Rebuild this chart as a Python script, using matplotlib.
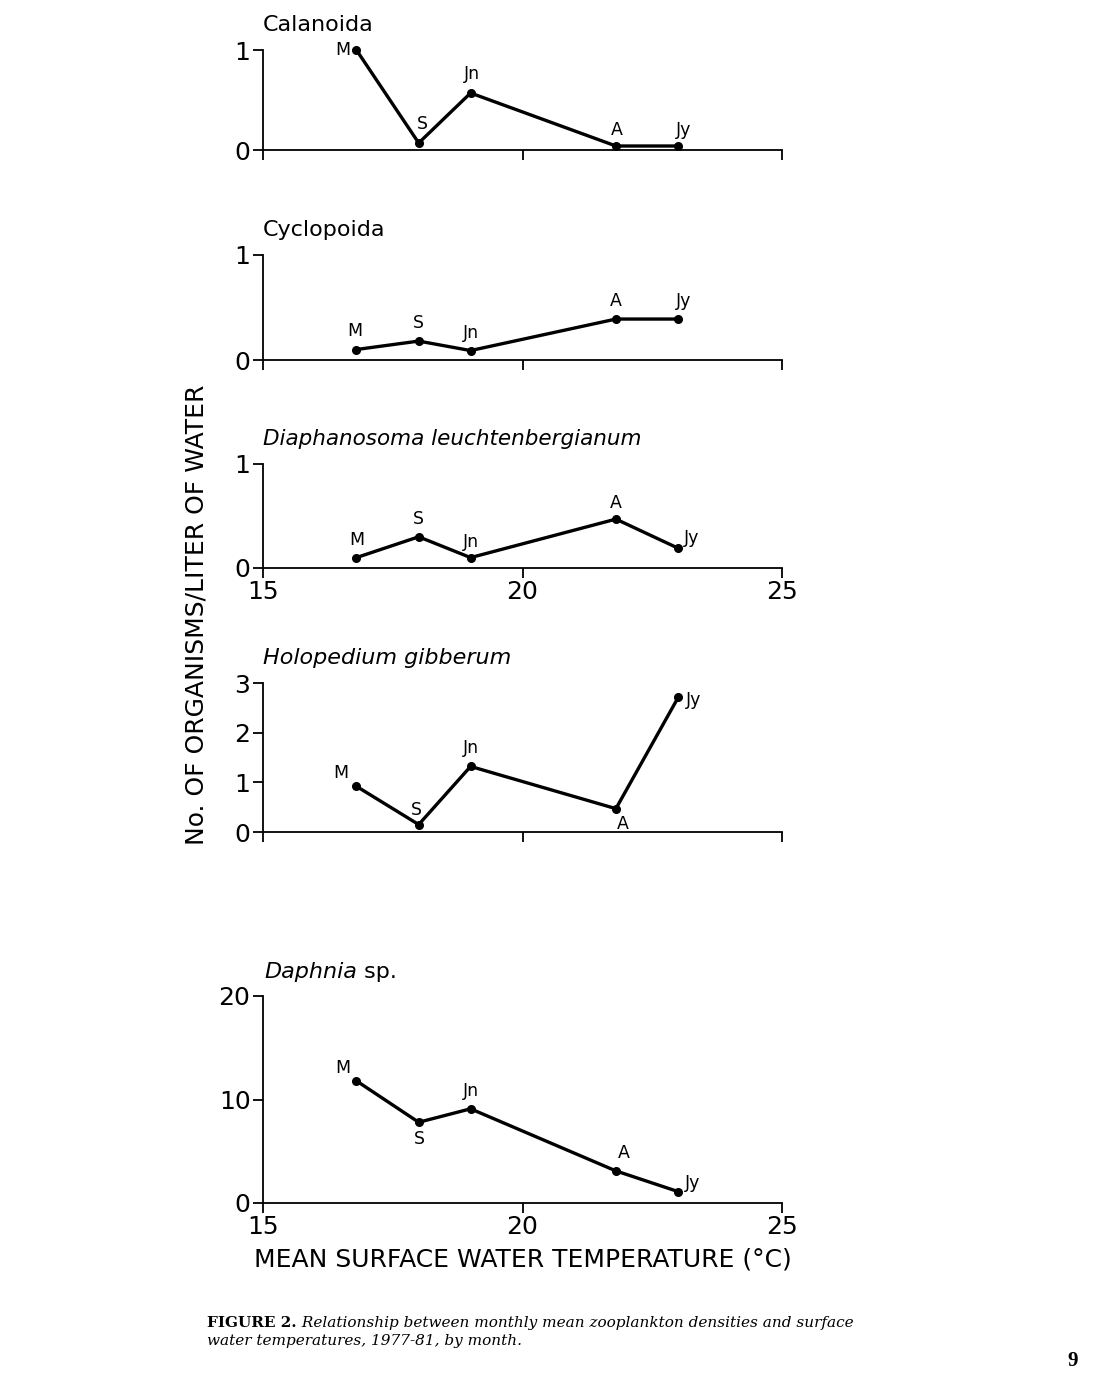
import matplotlib
matplotlib.use("Agg")
import matplotlib.pyplot as plt
from matplotlib.text import Annotation

plt.rcParams['font.family'] = ['DejaVu Sans']

# ---- data ----
months = ["M", "S", "Jn", "A", "Jy"]
temperature = [16.8, 18.0, 19.0, 21.8, 23.0]

calanoida = [1.00, 0.07, 0.57, 0.04, 0.04]
cyclopoida = [0.10, 0.18, 0.09, 0.39, 0.39]
diaphanosoma = [0.10, 0.30, 0.10, 0.47, 0.19]
holopedium = [0.92, 0.15, 1.32, 0.47, 2.71]
daphnia = [11.8, 7.8, 9.1, 3.1, 1.1]

titles = ["Calanoida", "Cyclopoida", "Diaphanosoma leuchtenbergianum",
          "Holopedium gibberum", "Daphnia"]
title_italic = [False, False, True, True, True]
yticks_list = [[0, 1], [0, 1], [0, 1], [0, 1, 2, 3], [0, 10, 20]]
xticks = [15, 20, 25]

W, H = 1093, 1380
fig = plt.figure(figsize=(W / 100, H / 100), dpi=100)
fig.patch.set_facecolor("white")

# axes boxes in pixels: (left, y_top, right, y_bottom)
boxes = [(263, 50, 782, 150), (263, 255, 782, 360), (263, 464, 782, 568),
         (263, 683, 782, 832), (263, 996, 782, 1203)]
show_xlabels = [False, False, True, False, True]

# label offsets (pixels dx, dy upward) and alignment for each point
offsets = [
    [(-6, 0, 'right', 'center'), (4, 10, 'center', 'bottom'), (1, 10, 'center', 'bottom'),
     (1, 7, 'center', 'bottom'), (5, 7, 'center', 'bottom')],
    [(-2, 9, 'center', 'bottom'), (0, 9, 'center', 'bottom'), (0, 9, 'center', 'bottom'),
     (0, 9, 'center', 'bottom'), (5, 9, 'center', 'bottom')],
    [(0, 9, 'center', 'bottom'), (0, 9, 'center', 'bottom'), (0, 7, 'center', 'bottom'),
     (0, 7, 'center', 'bottom'), (6, 1, 'left', 'bottom')],
    [(-8, 4, 'right', 'bottom'), (-2, 6, 'center', 'bottom'), (0, 9, 'center', 'bottom'),
     (7, -6, 'center', 'top'), (8, -3, 'left', 'center')],
    [(-6, 4, 'right', 'bottom'), (1, -8, 'center', 'top'), (0, 9, 'center', 'bottom'),
     (8, 9, 'center', 'bottom'), (7, 0, 'left', 'bottom')],
]

series = [calanoida, cyclopoida, diaphanosoma, holopedium, daphnia]
px2pt = 72 / 100

for i, (vals, box) in enumerate(zip(series, boxes)):
    l, t, r, b = box
    ax = fig.add_axes([l / W, 1 - b / H, (r - l) / W, (b - t) / H])
    yt = yticks_list[i]
    ax.set_xlim(15, 25)
    ax.set_ylim(yt[0], yt[-1])
    for s in ['top', 'right']:
        ax.spines[s].set_visible(False)
    for s in ['left', 'bottom']:
        ax.spines[s].set_linewidth(1.3)
        ax.spines[s].set_color('black')
    ax.set_xticks(xticks)
    ax.set_yticks(yt)
    ax.tick_params(axis='both', direction='out', length=7, width=1.3,
                   labelsize=18, pad=2, colors='black')
    if not show_xlabels[i]:
        ax.set_xticklabels([])
    ax.plot(temperature, vals, color='black', lw=2.4, marker='o', ms=5.5,
            clip_on=False, solid_joinstyle='round')
    for j, (tx, v, m) in enumerate(zip(temperature, vals, months)):
        dx, dy, ha, va = offsets[i][j]
        ax.annotate(m, (tx, v), xytext=(dx * px2pt, dy * px2pt),
                    textcoords='offset points', ha=ha, va=va, fontsize=12.5)
    # title
    if i == 4:
        tt = ax.annotate(titles[i], (0, 1), xycoords='axes fraction',
                         xytext=(1, 18 * px2pt), textcoords='offset points',
                         ha='left', va='baseline', fontsize=16, style='italic')
        ax.annotate(" sp.", (1, 0), xycoords=tt, ha='left', va='bottom',
                    fontsize=16)
    else:
        ax.annotate(titles[i], (0, 1), xycoords='axes fraction',
                    xytext=(0, 19 * px2pt), textcoords='offset points',
                    ha='left', va='baseline',
                    fontsize=15.5 if i == 2 else 16,
                    style='italic' if title_italic[i] else 'normal')
    if i == 4:
        ax.set_xlabel("MEAN SURFACE WATER TEMPERATURE (°C)", fontsize=18,
                      labelpad=6)

fig.text(197 / W, 1 - 615 / H, "No. OF ORGANISMS/LITER OF WATER", rotation=90,
         ha='center', va='center', fontsize=18)

cap1 = fig.text(207 / W, 1 - 1327 / H, "FIGURE 2.", fontsize=11,
                family='DejaVu Serif', weight='bold', ha='left', va='baseline')
fig.add_artist(Annotation(
    " Relationship between monthly mean zooplankton densities and surface",
    (1, 0), xycoords=cap1, ha='left', va='bottom', fontsize=11,
    family='DejaVu Serif', style='italic'))
fig.text(207 / W, 1 - 1345 / H,
         "water temperatures, 1977-81, by month.", fontsize=11,
         family='DejaVu Serif', style='italic', ha='left', va='baseline')
fig.text(1073 / W, 1 - 1366 / H, "9", fontsize=15, family='Liberation Serif',
         weight='bold', ha='center', va='baseline')

fig.savefig("out.png", dpi=100, facecolor='white')
